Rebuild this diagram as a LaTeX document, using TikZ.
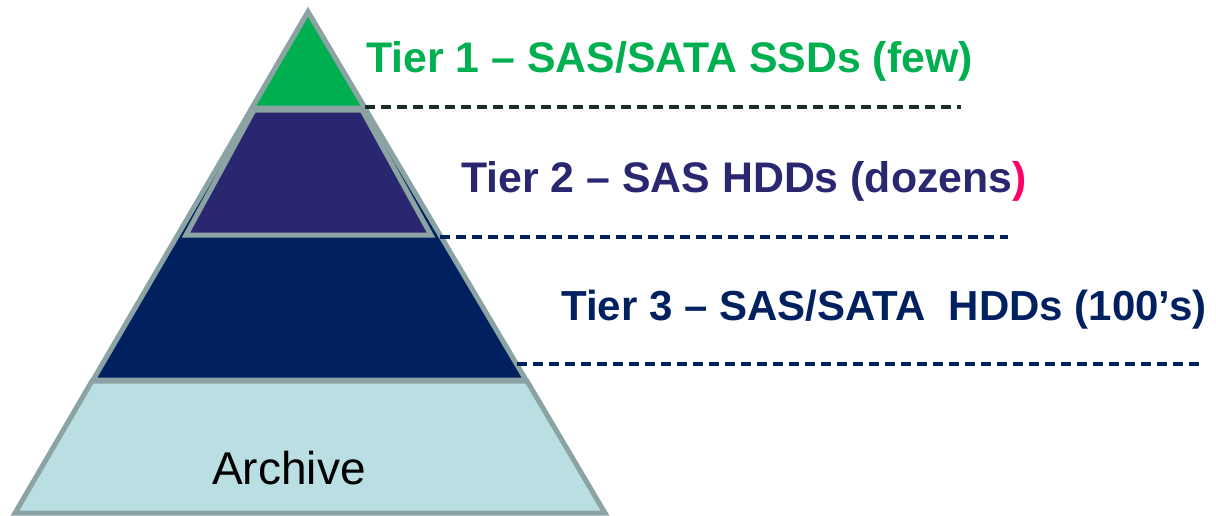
\documentclass[tikz,border=0pt]{standalone}
\usepackage{fontspec}
\setmainfont{Liberation Sans}
\definecolor{tiergreen}{HTML}{00B050}
\definecolor{tierpurple}{HTML}{2A2771}
\definecolor{tiernavy}{HTML}{002060}
\definecolor{archiveblue}{HTML}{B9DFE3}
\definecolor{rimgray}{HTML}{8CA3A3}
\definecolor{darkdash}{HTML}{1C2B2B}
\definecolor{accentred}{HTML}{FF0066}
\begin{document}
\begin{tikzpicture}[x=0.5pt,y=-0.5pt,
  layer/.style={draw=rimgray,line width=2.5pt,line join=miter},
  tierline/.style={line width=2.4pt,dash pattern=on 5pt off 3pt},
  tierlabel/.style={anchor=base west,inner sep=0pt,font=\fontsize{21.4}{25}\selectfont\bfseries}]
\useasboundingbox (0,0) rectangle (1216,515);

% pyramid layers, bottom to top
\draw[layer,fill=archiveblue] (92,381) -- (527,381) -- (605,513) -- (15,513) -- cycle;
\draw[layer,fill=tiernavy] (308,12) -- (526,380) -- (93,380) -- cycle;
\draw[layer,fill=tierpurple] (254,110) -- (362,110) -- (431,235) -- (186,235) -- cycle;
\draw[layer,fill=tiergreen] (308,12) -- (365,108) -- (252,108) -- cycle;

% labels
\node[tierlabel,text=tiergreen] (t1) at (366,72) {Tier 1 – SAS/SATA SSDs (few)};
\node[tierlabel,text=tierpurple] (t2) at (461,192) {Tier 2 – SAS HDDs (dozens\textcolor{accentred}{)}};
\node[tierlabel,text=tiernavy,font=\fontsize{21}{25}\selectfont\bfseries] (t3) at (561,320) {Tier 3 – SAS/SATA\ \ HDDs (100’s)};
\node[anchor=base,inner sep=0pt,font=\fontsize{23}{27}\selectfont] (arch) at (289,484) {Archive};

% dashed separators
\coordinate (d1a) at (365,107); \coordinate (d1b) at (961,107);
\coordinate (d2a) at (440,237); \coordinate (d2b) at (1008,237);
\coordinate (d3a) at (517,364); \coordinate (d3b) at (1201,364);
\draw[tierline,darkdash] (d1a) -- (d1b);
\draw[tierline,tiernavy] (d2a) -- (d2b);
\draw[tierline,tiernavy] (d3a) -- (d3b);
\end{tikzpicture}
\end{document}
